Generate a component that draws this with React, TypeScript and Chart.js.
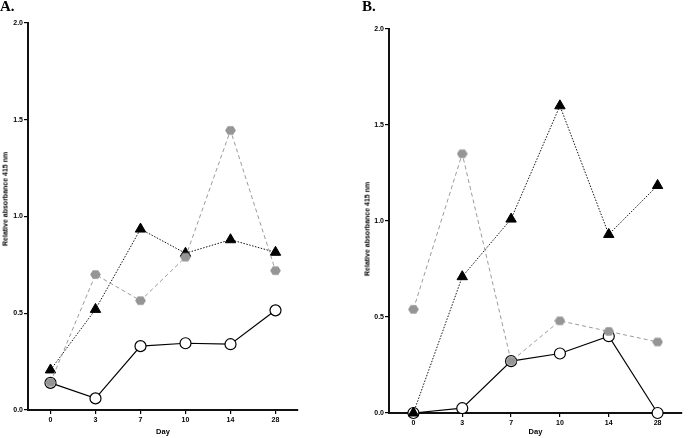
import React, { useEffect, useRef } from "react";
import { Chart, registerables } from "chart.js";

Chart.register(...registerables);

const days = ["0", "3", "7", "10", "14", "28"];
const yTicks = [0, 0.5, 1.0, 1.5, 2.0];

const aOpen = [0.14, 0.06, 0.33, 0.345, 0.34, 0.515];
const aTri = [0.207, 0.52, 0.935, 0.81, 0.88, 0.815];
const aGray = [0.143, 0.7, 0.565, 0.79, 1.445, 0.72];

const bOpen = [0, 0.025, 0.27, 0.31, 0.4, 0];
const bTri = [0, 0.71, 1.01, 1.6, 0.93, 1.185];
const bGray = [0.54, 1.35, 0.27, 0.48, 0.425, 0.37];

const FONT = "'Liberation Sans', Arial, sans-serif";

function makeHex(): HTMLCanvasElement {
  const c = document.createElement("canvas");
  c.width = 11;
  c.height = 11;
  const ctx = c.getContext("2d")!;
  ctx.fillStyle = "#959595";
  ctx.beginPath();
  for (let i = 0; i < 6; i++) {
    const a = (Math.PI / 3) * i;
    const x = 5.5 + 5.4 * Math.cos(a);
    const y = 5.5 + 5.0 * Math.sin(a);
    if (i === 0) ctx.moveTo(x, y);
    else ctx.lineTo(x, y);
  }
  ctx.closePath();
  ctx.fill();
  return c;
}

type PanelProps = {
  open: number[];
  tri: number[];
  gray: number[];
  left: number;
  width: number;
  top: number;
  axisH: number;
  padRight: number;
};

function Panel({ open, tri, gray, left, width, top, axisH, padRight }: PanelProps) {
  const ref = useRef<HTMLCanvasElement>(null);
  useEffect(() => {
    const hex = makeHex();
    const chart = new Chart(ref.current!, {
      type: "line",
      data: {
        labels: days,
        datasets: [
          {
            data: gray,
            borderColor: "#9a9a9a",
            borderWidth: 1,
            borderDash: [4, 3],
            pointStyle: hex as any,
            pointRadius: 5,
            order: 0,
            clip: false as any,
          },
          {
            data: tri,
            borderColor: "#111",
            borderWidth: 1,
            borderDash: [1.5, 1.5],
            pointStyle: "triangle",
            pointRadius: 6,
            pointBackgroundColor: "#000",
            pointBorderColor: "#000",
            pointBorderWidth: 1,
            order: 1,
            clip: false as any,
          },
          {
            data: open,
            borderColor: "#000",
            borderWidth: 1.2,
            pointStyle: "circle",
            pointRadius: 5.5,
            pointBackgroundColor: "#fff",
            pointBorderColor: "#000",
            pointBorderWidth: 1.2,
            order: 2,
            clip: false as any,
          },
        ],
      },
      options: {
        animation: false,
        responsive: false,
        maintainAspectRatio: false,
        layout: { padding: { top, right: padRight, left: 0, bottom: 0 } },
        plugins: { legend: { display: false }, tooltip: { enabled: false } },
        scales: {
          x: {
            type: "category",
            offset: true,
            grid: {
              display: true,
              drawOnChartArea: false,
              drawTicks: true,
              tickLength: 4,
              color: "#000",
              lineWidth: 1.2,
            },
            border: { display: true, color: "#111", width: 2 },
            ticks: {
              color: "#000",
              padding: 2,
              font: { family: FONT, size: 7, weight: "bold" },
            },
            title: {
              display: true,
              text: "Day",
              color: "#000",
              padding: { top: 1, bottom: 2 },
              font: { family: FONT, size: 7.5, weight: "bold" },
            },
            afterFit: (s: any) => {
              s.height = axisH;
            },
          },
          y: {
            min: 0,
            max: 2,
            afterBuildTicks: (s: any) => {
              s.ticks = yTicks.map((v) => ({ value: v }));
            },
            grid: {
              display: true,
              drawOnChartArea: false,
              drawTicks: true,
              tickLength: 4,
              color: "#000",
              lineWidth: 1.2,
            },
            border: { display: true, color: "#111", width: 2 },
            ticks: {
              color: "#000",
              padding: 1,
              font: { family: FONT, size: 7, weight: "bold" },
              callback: (v: any) => Number(v).toFixed(1),
            },
            afterFit: (s: any) => {
              s.width = 28;
            },
          },
        },
      },
    });
    return () => chart.destroy();
  }, []);
  return (
    <canvas
      ref={ref}
      width={width}
      height={438}
      style={{ position: "absolute", left, top: 0, width, height: 438 }}
    />
  );
}

const yTitleStyle = (x: number, y: number): React.CSSProperties => ({
  position: "absolute",
  left: x,
  top: y,
  transform: "translate(-50%, -50%) rotate(-90deg)",
  whiteSpace: "nowrap",
  fontFamily: FONT,
  fontSize: 7,
  fontWeight: "bold",
  color: "#000",
});

const letterStyle = (x: number): React.CSSProperties => ({
  position: "absolute",
  left: x,
  top: -2,
  fontFamily: "'Liberation Serif', 'Times New Roman', serif",
  fontWeight: "bold",
  fontSize: 15,
  lineHeight: "17px",
  color: "#000",
});

export default function App() {
  return (
    <div
      style={{
        position: "fixed",
        left: 0,
        top: 0,
        width: 689,
        height: 438,
        background: "#fff",
        overflow: "hidden",
      }}
    >
      <Panel open={aOpen} tri={aTri} gray={aGray} left={0} width={305} top={23} axisH={28} padRight={3} />
      <Panel open={bOpen} tri={bTri} gray={bGray} left={361} width={328} top={29} axisH={25} padRight={0} />
      <div style={letterStyle(0)}>A.</div>
      <div style={letterStyle(362)}>B.</div>
      <div style={yTitleStyle(5, 199)}>Relative absorbance 415 nm</div>
      <div style={yTitleStyle(367, 229)}>Relative absorbance 415 nm</div>
    </div>
  );
}
